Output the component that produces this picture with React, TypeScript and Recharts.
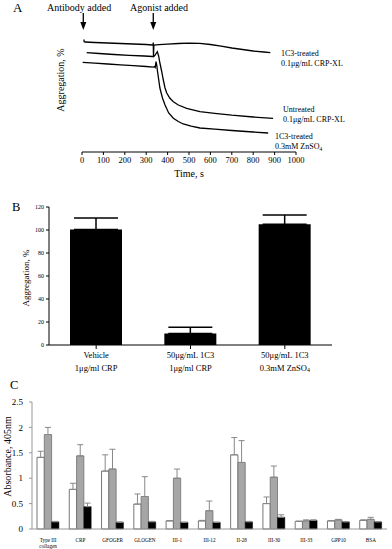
import React from 'react';
import {
  LineChart, Line, BarChart, Bar, XAxis, YAxis, ErrorBar, ReferenceLine,
} from 'recharts';

const FONT = '"Liberation Serif", "DejaVu Serif", serif';

// ---------- Panel A: aggregation traces ----------
const timeTicks = [0, 100, 200, 300, 400, 500, 600, 700, 800, 900, 1000];

const crpTreatedTime = [9, 10, 14, 60, 120, 180, 240, 300, 330, 332, 333, 334, 336, 360, 400, 450, 500, 550, 600, 650, 700, 750, 800, 850, 880];
const crpTreatedAgg = [112.5, 110.5, 110, 109.5, 109, 108.5, 108, 107.5, 107, 107, 109.5, 96, 107, 107.3, 107.8, 108.5, 108.8, 108.6, 107.5, 105.8, 104, 102.5, 101, 100, 99.3];

const untreatedTime = [22, 80, 150, 220, 290, 330, 334, 340, 346, 352, 358, 364, 372, 380, 388, 396, 410, 427, 450, 489, 551, 620, 700, 800, 893];
const untreatedAgg = [99.3, 98.5, 97.5, 96.7, 96, 95.5, 95.3, 96.5, 98.5, 100.3, 96, 89, 81, 72, 64, 59, 54, 50.3, 47, 43.7, 40.3, 38.7, 36.8, 35, 33.7];

const znTreatedTime = [3, 60, 120, 180, 240, 300, 333, 338, 342, 346, 350, 352, 358, 364, 376, 388, 405, 427, 450, 473, 510, 551, 620, 700, 800, 870];
const znTreatedAgg = [89.7, 88.8, 88, 87.2, 86.3, 85.5, 84.8, 85.5, 84.5, 90.3, 86, 82, 73, 64, 54, 47, 39, 33.7, 30.5, 28, 25.8, 24, 22.8, 21.5, 20, 19];

const antibodyTime = 6;
const agonistTime = 333;

// ---------- Panel B ----------
const bLine1 = ['Vehicle', '50μg/mL 1C3', '50μg/mL 1C3'];
const bLine2 = ['1μg/ml CRP', '1μg/ml CRP', '0.3mM ZnSO4'];
const bValues = [100.5, 10, 105];
const bErrors = [10, 5.5, 8];
const bTicks = [0, 20, 40, 60, 80, 100, 120];

// ---------- Panel C ----------
const cCategories = ['Type III\ncollagen', 'CRP', 'GFOGER', 'GLOGEN', 'III-1', 'III-12', 'II-28', 'III-30', 'III-33', 'GPP10', 'BSA'];
const cWhite = [1.41, 0.78, 1.14, 0.49, 0.16, 0.16, 1.46, 0.5, 0.15, 0.16, 0.17];
const cWhiteErr = [0.12, 0.12, 0.32, 0.2, 0.005, 0.01, 0.34, 0.13, 0.005, 0.005, 0.01];
const cGray = [1.86, 1.44, 1.18, 0.64, 1.0, 0.36, 1.31, 1.02, 0.16, 0.18, 0.19];
const cGrayErr = [0.14, 0.22, 0.39, 0.39, 0.18, 0.19, 0.43, 0.22, 0.02, 0.01, 0.04];
const cBlack = [0.14, 0.44, 0.13, 0.14, 0.13, 0.13, 0.14, 0.23, 0.17, 0.14, 0.14];
const cBlackErr = [0.01, 0.07, 0.01, 0.01, 0.005, 0.005, 0.01, 0.05, 0.01, 0.005, 0.005];
const cTicks = [0, 0.5, 1, 1.5, 2, 2.5];
const cBoundaries = cCategories.map((_, i) => i).concat([cCategories.length]);

const zip = (ts: number[], vs: number[]) => ts.map((t, i) => ({ t, v: vs[i] }));
const crpTreatedData = zip(crpTreatedTime, crpTreatedAgg);
const untreatedData = zip(untreatedTime, untreatedAgg);
const znTreatedData = zip(znTreatedTime, znTreatedAgg);

const bData = bValues.map((v, i) => ({ name: i, l1: bLine1[i], l2: bLine2[i], v, err: [0, bErrors[i]] }));
const cData = cCategories.map((name, i) => ({
  name,
  w: cWhite[i], we: [0, cWhiteErr[i]],
  g: cGray[i], ge: [0, cGrayErr[i]],
  b: cBlack[i], be: [0, cBlackErr[i]],
}));

const Arrow = (p: any) => (
  <g>
    <line x1={p.x1} y1={p.y1} x2={p.x2} y2={p.y2 - 7} stroke="#000" strokeWidth={1.3} />
    <polygon points={`${p.x2 - 3},${p.y2 - 8} ${p.x2 + 3},${p.y2 - 8} ${p.x2},${p.y2}`} fill="#000" />
  </g>
);

const renderSub = (s: string, size: number) => {
  if (s.endsWith('SO4')) {
    return [<tspan key="a">{s.slice(0, -1)}</tspan>, <tspan key="b" fontSize={size * 0.7} dy={1}>4</tspan>];
  }
  return s;
};

const BTick = (props: any) => {
  const { x, y, payload } = props;
  const i = payload.value;
  return (
    <g>
      <text x={x} y={y + 7} textAnchor="middle" fontFamily={FONT} fontSize={8.5} fill="#000">{bLine1[i]}</text>
      <text x={x} y={y + 20} textAnchor="middle" fontFamily={FONT} fontSize={8.5} fill="#000">{renderSub(bLine2[i], 8.5)}</text>
    </g>
  );
};

const CTick = (props: any) => {
  const { x, y, payload } = props;
  const lines = String(payload.value).split('\n');
  return (
    <text x={x} y={y} textAnchor="middle" fontFamily={FONT} fontSize={5.2} fill="#000">
      {lines.map((l, k) => (
        <tspan key={k} x={x} dy={k === 0 ? 5 : 5.5}>{l}</tspan>
      ))}
    </text>
  );
};

export default function App() {
  return (
    <div style={{ position: 'absolute', left: 0, top: 0, width: 392, height: 549, background: '#fff', fontFamily: FONT }}>
      {/* Panel A */}
      <div style={{ position: 'absolute', left: 0, top: 0 }}>
        <LineChart width={392} height={185} margin={{ top: 12, right: 96, left: 0, bottom: 0 }}>
          <XAxis
            type="number" dataKey="t" domain={[0, 1000]} ticks={timeTicks} allowDataOverflow
            stroke="#000" tickSize={3} height={33} interval={0}
            tick={{ fontSize: 8.5, fontFamily: FONT, fill: '#000' }}
            label={{ value: 'Time, s', position: 'insideBottom', offset: 8, fontSize: 10, fontFamily: FONT, fill: '#000' }}
          />
          <YAxis
            type="number" dataKey="v" domain={[0, 140]} width={82}
            axisLine={false} tickLine={false} tick={false}
            label={{ value: 'Aggregation, %', angle: -90, position: 'center', dx: 19, dy: -2, fontSize: 10, fontFamily: FONT, fill: '#000' }}
          />
          <Line data={crpTreatedData} dataKey="v" type="linear" stroke="#000" strokeWidth={1.3} dot={false} isAnimationActive={false} />
          <Line data={untreatedData} dataKey="v" type="linear" stroke="#000" strokeWidth={1.3} dot={false} isAnimationActive={false} />
          <Line data={znTreatedData} dataKey="v" type="linear" stroke="#000" strokeWidth={1.3} dot={false} isAnimationActive={false} />
          <ReferenceLine segment={[{ x: antibodyTime, y: 139 }, { x: antibodyTime, y: 122 }]} shape={Arrow} />
          <ReferenceLine segment={[{ x: agonistTime, y: 139 }, { x: agonistTime, y: 122 }]} shape={Arrow} />
        </LineChart>
      </div>

      {/* Panel B */}
      <div style={{ position: 'absolute', left: 0, top: 180 }}>
        <BarChart width={392} height={195} data={bData} margin={{ top: 27, right: 60, left: 0, bottom: 0 }} barSize={52}>
          <XAxis dataKey="name" stroke="#000" tickSize={4} height={30} interval={0} tick={<BTick />} />
          <YAxis
            domain={[0, 120]} ticks={bTicks} width={49} stroke="#000" tickSize={3} interval={0}
            tick={{ fontSize: 6, fontFamily: FONT, fill: '#000' }}
            label={{ value: 'Aggregation, %', angle: -90, position: 'center', dx: 1, dy: 2, fontSize: 9, fontFamily: FONT, fill: '#000' }}
          />
          <Bar dataKey="v" fill="#000" isAnimationActive={false}>
            <ErrorBar dataKey="err" width={22} stroke="#000" strokeWidth={1.5} direction="y" />
          </Bar>
        </BarChart>
      </div>

      {/* Panel C */}
      <div style={{ position: 'absolute', left: 0, top: 390 }}>
        <BarChart width={392} height={159} data={cData} margin={{ top: 12, right: 5, left: 0, bottom: 0 }} barSize={7.3} barGap={0}>
          <XAxis
            xAxisId="grid" type="number" domain={[0, 11]} ticks={cBoundaries} interval={0}
            tick={false} axisLine={false} tickSize={3} stroke="#999" height={0}
          />
          <XAxis dataKey="name" stroke="#999" tickLine={false} height={20} interval={0} tick={<CTick />} />
          <YAxis
            domain={[0, 2.5]} ticks={cTicks} width={32} stroke="#999" tickSize={3} tickMargin={6} interval={0}
            tick={{ fontSize: 9, fontFamily: FONT, fill: '#000' }}
            label={{ value: 'Absorbance, 405nm', angle: -90, position: 'center', dx: -9, dy: -9, fontSize: 10, fontFamily: FONT, fill: '#000' }}
          />
          <Bar dataKey="w" fill="#fff" stroke="#555" strokeWidth={0.8} isAnimationActive={false}>
            <ErrorBar dataKey="we" width={3} stroke="#888" strokeWidth={1} direction="y" />
          </Bar>
          <Bar dataKey="g" fill="#a6a6a6" stroke="#707070" strokeWidth={0.8} isAnimationActive={false}>
            <ErrorBar dataKey="ge" width={3} stroke="#888" strokeWidth={1} direction="y" />
          </Bar>
          <Bar dataKey="b" fill="#000" stroke="#000" strokeWidth={0.5} isAnimationActive={false}>
            <ErrorBar dataKey="be" width={3} stroke="#888" strokeWidth={1} direction="y" />
          </Bar>
        </BarChart>
      </div>

      {/* Annotations */}
      <svg width={392} height={549} style={{ position: 'absolute', left: 0, top: 0, pointerEvents: 'none' }}>
        <g fontFamily={FONT} fill="#000">
          <text x={13} y={12} fontSize={13}>A</text>
          <text x={47} y={10.5} fontSize={10}>Antibody added</text>
          <text x={130} y={10.5} fontSize={10}>Agonist added</text>
          <text x={281} y={55.5} fontSize={8}>1C3-treated</text>
          <text x={281} y={66} fontSize={8}>0.1μg/mL CRP-XL</text>
          <text x={283} y={112} fontSize={8}>Untreated</text>
          <text x={283} y={122} fontSize={8}>0.1μg/mL CRP-XL</text>
          <text x={275} y={139} fontSize={8}>1C3-treated</text>
          <text x={275} y={149} fontSize={8}>0.3mM ZnSO<tspan fontSize={5.5} dy={1.5}>4</tspan></text>
          <text x={12} y={211} fontSize={12.5}>B</text>
          <text x={10} y={389} fontSize={12.5}>C</text>
        </g>
      </svg>
    </div>
  );
}
